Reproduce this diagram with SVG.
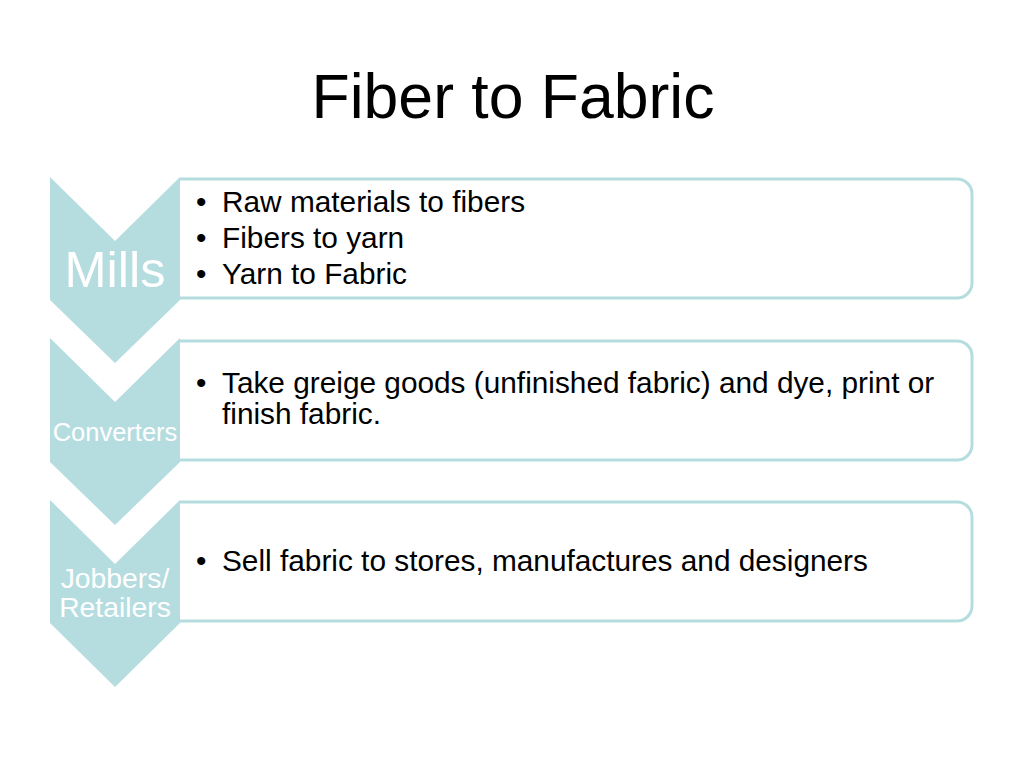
<svg xmlns="http://www.w3.org/2000/svg" width="1024" height="768" viewBox="0 0 1024 768">
<style>
.chev{fill:#b5dde0}
.box{fill:#ffffff;stroke:#b5dde0;stroke-width:3}
.t{font-family:"Liberation Sans",Arial,sans-serif;fill:#000}
.w{font-family:"Liberation Sans",Arial,sans-serif;fill:#ffffff;text-anchor:middle}
</style>
<rect width="1024" height="768" fill="#ffffff"/>
<text x="513" y="118" class="t" font-size="62.5" text-anchor="middle">Fiber to Fabric</text>
<g id="mills-box">
<path class="box" d="M180,179 H957 A15,15 0 0 1 972,194 V283 A15,15 0 0 1 957,298 H180"/>
<g class="t" font-size="29.8">
<text x="196" y="212">•</text><text x="222" y="212">Raw materials to fibers</text>
<text x="196" y="248">•</text><text x="222" y="248">Fibers to yarn</text>
<text x="196" y="284">•</text><text x="222" y="284">Yarn to Fabric</text>
</g>
</g>
<g id="converters-box">
<path class="box" d="M180,341 H957 A15,15 0 0 1 972,356 V445 A15,15 0 0 1 957,460 H180"/>
<g class="t" font-size="29.8">
<text x="196" y="393">•</text><text x="222" y="393">Take greige goods (unfinished fabric) and dye, print or</text>
<text x="222" y="424">finish fabric.</text>
</g>
</g>
<g id="jobbers-box">
<path class="box" d="M180,502 H957 A15,15 0 0 1 972,517 V606 A15,15 0 0 1 957,621 H180"/>
<g class="t" font-size="29.8">
<text x="196" y="571">•</text><text x="222" y="571">Sell fabric to stores, manufactures and designers</text>
</g>
</g>
<g id="mills">
<path class="chev" d="M50,177 L115,241 L180,177 V300 L115,363 L50,300 Z"/>
<text x="115" y="287" class="w" font-size="50.5">Mills</text>
</g>
<g id="converters">
<path class="chev" d="M50,338 L115,402 L180,338 V462 L115,525 L50,462 Z"/>
<text x="115" y="441" class="w" font-size="25.5">Converters</text>
</g>
<g id="jobbers">
<path class="chev" d="M50,500 L115,564 L180,500 V623 L115,687 L50,623 Z"/>
<text x="115" y="588" class="w" font-size="28.3">Jobbers/</text>
<text x="115" y="617" class="w" font-size="28.3">Retailers</text>
</g>
<g id="connectors"></g>
</svg>
